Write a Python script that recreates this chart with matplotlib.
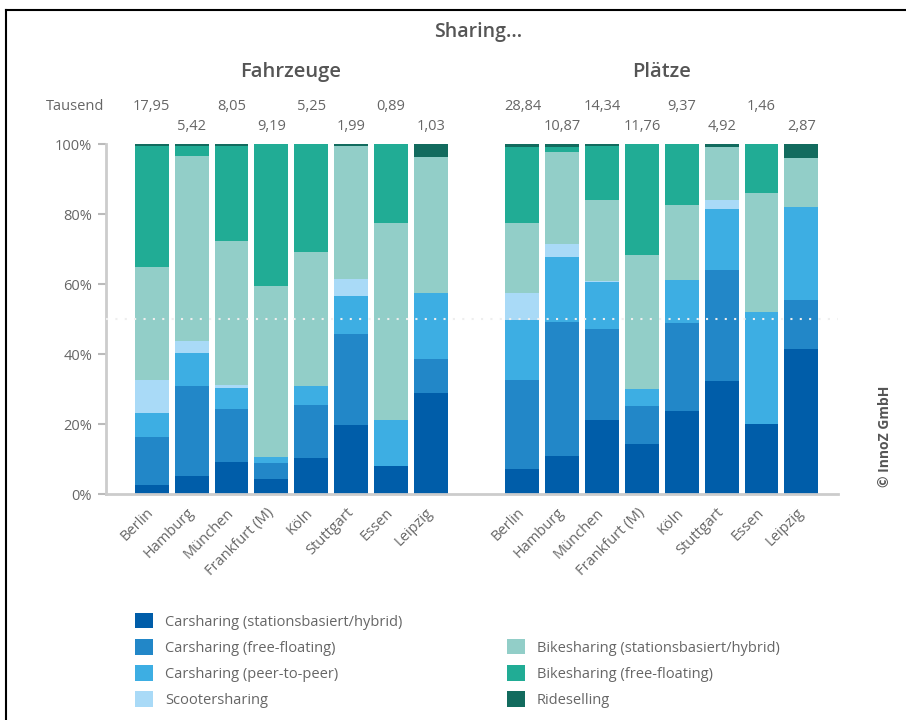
#! /usr/bin/env python3
# coding: utf-8

"""
Sharing-Angebote in deutschen Städten: Anteile nach Angebotsart
"""

import numpy as np
import matplotlib.pyplot as plt
from matplotlib.patches import Patch
from matplotlib.lines import Line2D

plt.rcParams['font.family'] = ['Open Sans', 'DejaVu Sans']

staedte = ['Berlin', 'Hamburg', 'München', 'Frankfurt (M)', 'Köln', 'Stuttgart', 'Essen', 'Leipzig']

# Gesamtzahl in Tausend (über den Balken)
fz_tausend = ['17,95', '5,42', '8,05', '9,19', '5,25', '1,99', '0,89', '1,03']
pl_tausend = ['28,84', '10,87', '14,34', '11,76', '9,37', '4,92', '1,46', '2,87']

kategorien = ['Carsharing (stationsbasiert/hybrid)', 'Carsharing (free-floating)',
              'Carsharing (peer-to-peer)', 'Scootersharing',
              'Bikesharing (stationsbasiert/hybrid)', 'Bikesharing (free-floating)', 'Rideselling']
farben = ['#005da9', '#2287c8', '#3daee3', '#a9daf7', '#92cec8', '#21ac95', '#126b5e']

# Fahrzeuge, Anteile in %
fz_car_station = [2.6, 5.1, 9.1, 4.3, 10.3, 19.7, 8.0, 28.9]
fz_car_free = [13.7, 25.8, 15.2, 4.6, 15.1, 26.0, 0.0, 9.7]
fz_car_p2p = [6.8, 9.4, 6.0, 1.7, 5.5, 10.9, 13.1, 18.8]
fz_scooter = [9.5, 3.4, 0.8, 0.0, 0.0, 4.8, 0.0, 0.0]
fz_bike_station = [32.3, 52.9, 41.2, 48.8, 38.2, 38.0, 56.3, 38.9]
fz_bike_free = [34.5, 2.8, 27.1, 40.6, 30.9, 0.0, 22.6, 0.0]
fz_ride = [0.6, 0.6, 0.6, 0.0, 0.0, 0.6, 0.0, 3.7]

# Plätze, Anteile in %
pl_car_station = [7.1, 10.9, 21.1, 14.3, 23.7, 32.3, 20.0, 41.4]
pl_car_free = [25.5, 38.2, 26.0, 10.8, 25.2, 31.7, 0.0, 14.0]
pl_car_p2p = [17.1, 18.6, 13.5, 4.9, 12.2, 17.4, 32.0, 26.6]
pl_scooter = [7.7, 3.7, 0.3, 0.0, 0.0, 2.6, 0.0, 0.0]
pl_bike_station = [20.0, 26.3, 23.1, 38.3, 21.5, 15.1, 34.0, 14.0]
pl_bike_free = [21.7, 1.4, 15.4, 31.7, 17.4, 0.0, 14.0, 0.0]
pl_ride = [0.9, 0.9, 0.6, 0.0, 0.0, 0.9, 0.0, 4.0]

fz = [fz_car_station, fz_car_free, fz_car_p2p, fz_scooter, fz_bike_station, fz_bike_free, fz_ride]
pl = [pl_car_station, pl_car_free, pl_car_p2p, pl_scooter, pl_bike_station, pl_bike_free, pl_ride]

grau = '#666666'
x_fz = np.arange(len(staedte))
x_pl = x_fz + 9.3

fig = plt.figure(figsize=(9.06, 7.2), dpi=100)
ax = fig.add_axes([106 / 906, 1 - 494 / 720, 732 / 906, 350 / 720])

for x, gruppe in [(x_fz, fz), (x_pl, pl)]:
    unten = np.zeros(len(staedte))
    for werte, farbe in zip(gruppe, farben):
        ax.bar(x, werte, bottom=unten, width=0.85, color=farbe, linewidth=0)
        unten += np.array(werte)

# gepunktete 50%-Linie
ax.axhline(50, color='#eeeeee', lw=1.5, linestyle=(0, (1, 3.5)), zorder=3)

# Tausend-Werte, versetzt in zwei Reihen
for x, werte in [(x_fz, fz_tausend), (x_pl, pl_tausend)]:
    for i, (xi, w) in enumerate(zip(x, werte)):
        y = 110.6 if i % 2 == 0 else 105.1
        ax.text(xi, y, w, ha='center', va='center', fontsize=10.5, color=grau, clip_on=False)
ax.text(-1.2, 110.6, 'Tausend', ha='right', va='center', fontsize=10.5, color=grau, clip_on=False)

ax.set_xlim(-1.15, 17.22)
ax.set_ylim(0, 100)
ax.set_yticks(range(0, 101, 20))
ax.set_yticklabels([f'{v}%' for v in range(0, 101, 20)])
ax.tick_params(axis='y', colors='#bbbbbb', labelcolor=grau, labelsize=10.5, length=6, width=1.5, pad=4)

ax.set_xticks(np.concatenate([x_fz, x_pl]))
ax.set_xticklabels(staedte * 2, rotation=45, ha='right', va='center', rotation_mode='anchor')
ax.tick_params(axis='x', length=0, labelcolor=grau, labelsize=10.5, pad=12)

for seite in ['top', 'right']:
    ax.spines[seite].set_visible(False)
for seite in ['left', 'bottom']:
    ax.spines[seite].set_color('#cccccc')
    ax.spines[seite].set_linewidth(2)

# Überschriften
fig.text(478 / 906, 1 - 32 / 720, 'Sharing...', ha='center', va='center',
         fontsize=14, fontweight='semibold', color='#555555')
fig.text(291 / 906, 1 - 72 / 720, 'Fahrzeuge', ha='center', va='center',
         fontsize=14.5, fontweight='semibold', color='#555555')
fig.text(662 / 906, 1 - 72 / 720, 'Plätze', ha='center', va='center',
         fontsize=14.5, fontweight='semibold', color='#555555')
fig.text(885 / 906, 1 - 436 / 720, '© InnoZ GmbH', ha='center', va='center', rotation=90,
         fontsize=10, fontweight='bold', color='#555555')

# Legende in zwei Spalten
griffe = [Patch(facecolor=f, edgecolor='none') for f in farben]
opts = dict(frameon=False, fontsize=10.5, handlelength=1.25, handleheight=1.25,
            handletextpad=0.8, labelspacing=0.65, borderpad=0, borderaxespad=0, labelcolor=grau)
fig.legend(griffe[:4], kategorien[:4], loc='upper left',
           bbox_to_anchor=(135 / 906, 1 - 613 / 720), **opts)
fig.legend(griffe[4:], kategorien[4:], loc='upper left',
           bbox_to_anchor=(507 / 906, 1 - 639 / 720), **opts)

# Rahmen links und oben
fig.add_artist(Line2D([6 / 906, 6 / 906], [0, 1 - 10 / 720], transform=fig.transFigure, color='black', lw=1.5))
fig.add_artist(Line2D([6 / 906, 1], [1 - 10 / 720, 1 - 10 / 720], transform=fig.transFigure, color='black', lw=1.5))

fig.savefig('out.png', dpi=100)
